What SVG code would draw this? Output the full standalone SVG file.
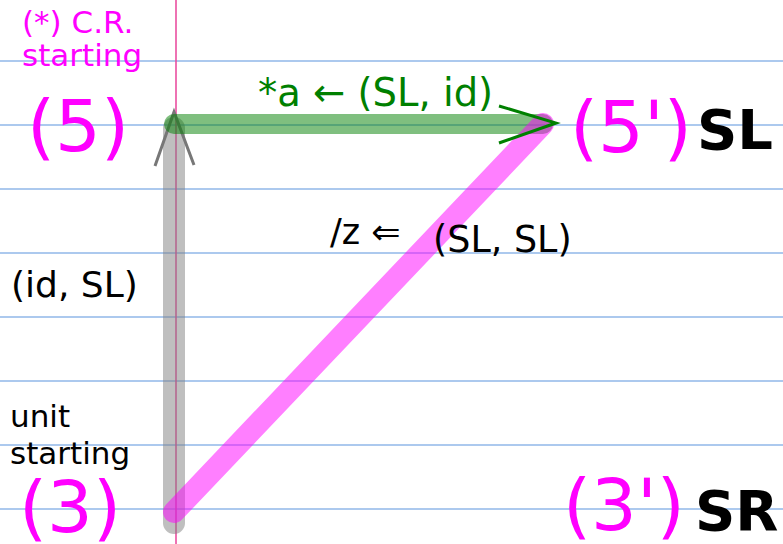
<svg xmlns="http://www.w3.org/2000/svg" width="783" height="544" viewBox="0 0 783 544">
<style>
text{font-family:"DejaVu Sans",sans-serif}
.grid line{stroke:#5b93dd;stroke-width:1.2}
.mag{fill:#ff00ff}
.big{font-size:72px}
.bold{font-weight:bold;font-size:56px;fill:#000}
.blk{fill:#000}
</style>
<rect width="783" height="544" fill="#fff"/>
<g class="grid">
<line x1="0" y1="61" x2="783" y2="61"/>
<line x1="0" y1="125" x2="783" y2="125"/>
<line x1="0" y1="189" x2="783" y2="189"/>
<line x1="0" y1="253" x2="783" y2="253"/>
<line x1="0" y1="317" x2="783" y2="317"/>
<line x1="0" y1="381" x2="783" y2="381"/>
<line x1="0" y1="445" x2="783" y2="445"/>
<line x1="0" y1="509" x2="783" y2="509"/>
</g>
<line x1="176" y1="0" x2="176" y2="544" stroke="#e8439a" stroke-width="1.5"/>
<g id="connectors">
<line x1="174" y1="128" x2="174" y2="523" stroke="#808080" stroke-opacity="0.5" stroke-width="22" stroke-linecap="round"/>
<polyline points="155,166 174,112 194,165" fill="none" stroke="#777" stroke-width="3"/>
<line x1="174" y1="124" x2="543" y2="124" stroke="#008000" stroke-opacity="0.5" stroke-width="20" stroke-linecap="round"/>
<line x1="543" y1="124" x2="174" y2="512" stroke="#ff00ff" stroke-opacity="0.5" stroke-width="22" stroke-linecap="round"/>
<polyline points="499,106 556,123 499,143" fill="none" stroke="#008000" stroke-width="3"/>
<text x="258" y="106" font-size="38.5" fill="#008000">*a ← (SL, id)</text>
<text x="330" y="244" font-size="35" class="blk">/z ⇐</text>
<text x="433" y="252" font-size="36.5" class="blk">(SL, SL)</text>
<text x="11" y="297" font-size="36" class="blk">(id, SL)</text>
</g>
<g id="node5">
<text x="22" y="33" font-size="31" class="mag">(*) C.R.</text>
<text x="22" y="66" font-size="31" class="mag">starting</text>
<text x="27" y="151" class="mag big">(5)</text>
</g>
<g id="node5p">
<text x="570" y="152" class="mag big">(5')</text>
<text x="697" y="149" class="bold">SL</text>
</g>
<g id="node3">
<text x="10" y="427" font-size="31" class="blk">unit</text>
<text x="10" y="464" font-size="31" class="blk">starting</text>
<text x="19" y="532" class="mag big">(3)</text>
</g>
<g id="node3p">
<text x="563" y="530" class="mag big">(3')</text>
<text x="695" y="530" class="bold">SR</text>
</g>
</svg>
